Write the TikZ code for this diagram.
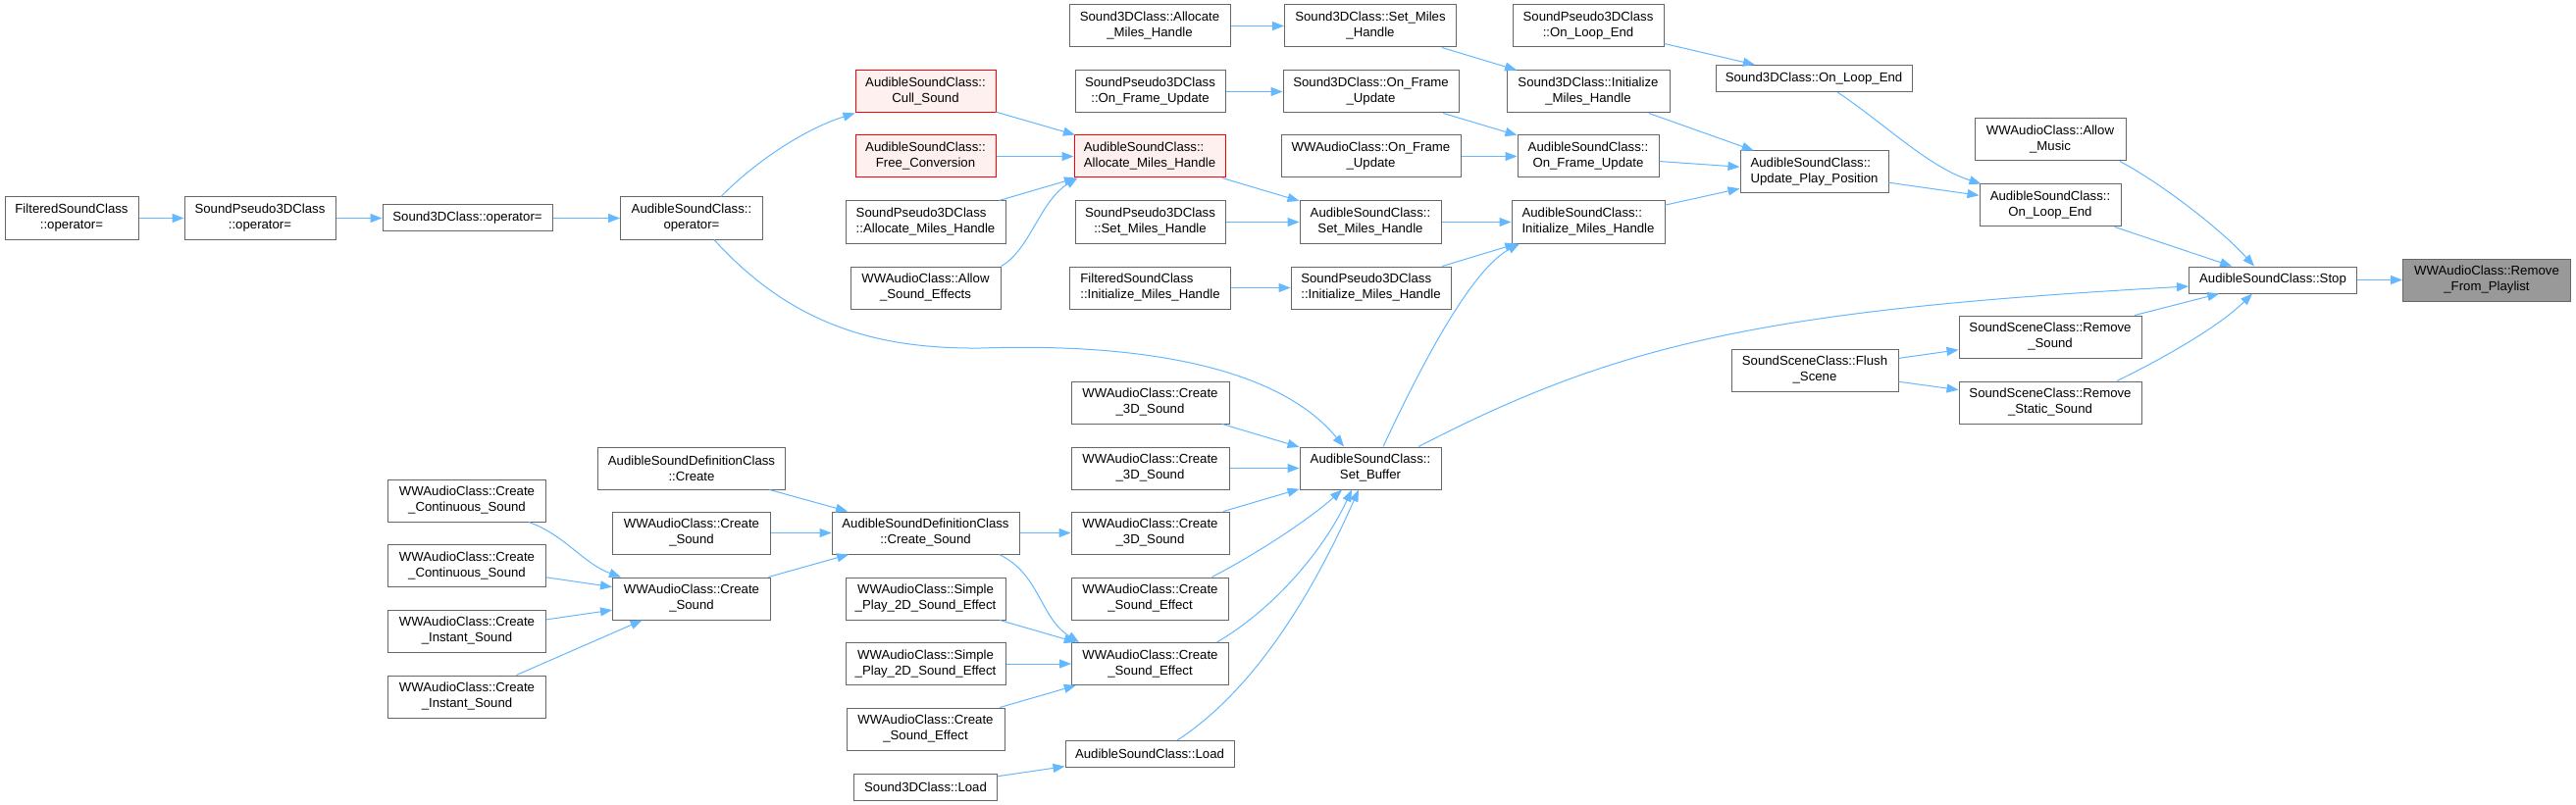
\documentclass[tikz,border=0pt]{standalone}
\usepackage{fontspec}
\newfontfamily\dxfont{Liberation Sans}
\usetikzlibrary{arrows.meta}
\newcommand\dxf{\dxfont\fontsize{13.2}{16}\selectfont}
\definecolor{dgrey}{HTML}{666666}
\definecolor{dblue}{HTML}{63B8FF}
\definecolor{dredfill}{HTML}{FFF0F0}
\definecolor{drootfill}{HTML}{999999}
\tikzset{
  dnode/.style={draw=dgrey, fill=white, line width=1pt, align=center, inner sep=0pt, minimum height=43pt, font=\dxf},
  dred/.style={dnode, draw=red, fill=dredfill},
  droot/.style={dnode, fill=drootfill},
  oneline/.style={minimum height=27pt},
  lal/.style={align=left},
  bw/.style={minimum width=#1},
  dedge/.style={draw=dblue, line width=1pt, -{Triangle[length=12pt,width=9pt]}},
}
\begin{document}
\begin{tikzpicture}[x=1pt,y=-1pt]
\fill[white] (0,0) rectangle (2626,821);
\useasboundingbox (0,0) rectangle (2626,821);

% column A-D
\node[dnode,bw=136pt] (n1) at (73,222.5) {FilteredSoundClass\\::operator=};
\node[dnode,bw=154pt] (n2) at (265,222.5) {SoundPseudo3DClass\\::operator=};
\node[dnode,oneline,bw=173pt] (n3) at (476.5,222.5) {Sound3DClass::operator=};
\node[dnode,bw=145pt] (n4) at (705,222.5) {AudibleSoundClass::\\operator=};
\node[dnode,bw=161pt] (cc1) at (476,510.5) {WWAudioClass::Create\\\_Continuous\_Sound};
\node[dnode,bw=161pt] (cc2) at (476,577) {WWAudioClass::Create\\\_Continuous\_Sound};
\node[dnode,bw=161pt] (ci1) at (476,643.5) {WWAudioClass::Create\\\_Instant\_Sound};
\node[dnode,bw=161pt] (ci2) at (476,710.5) {WWAudioClass::Create\\\_Instant\_Sound};
\node[dnode,bw=191pt] (adcc) at (705,477.5) {AudibleSoundDefinitionClass\\::Create};
\node[dnode,bw=161pt] (wcs1) at (705,543.5) {WWAudioClass::Create\\\_Sound};
\node[dnode,bw=161pt] (wcs2) at (705,610.5) {WWAudioClass::Create\\\_Sound};

% column E
\node[dred,bw=143pt] (cull) at (943.5,93.5) {AudibleSoundClass::\\Cull\_Sound};
\node[dred,bw=143pt] (free) at (943.5,159.5) {AudibleSoundClass::\\Free\_Conversion};
\node[dnode,lal,bw=163pt] (spam) at (943.5,226.5) {SoundPseudo3DClass\\::Allocate\_Miles\_Handle};
\node[dnode,bw=153pt] (ase) at (943.5,293.5) {WWAudioClass::Allow\\\_Sound\_Effects};
\node[dnode,bw=191pt] (adcs) at (943.5,543.5) {AudibleSoundDefinitionClass\\::Create\_Sound};
\node[dnode,bw=163pt] (sp1) at (943.5,610.5) {WWAudioClass::Simple\\\_Play\_2D\_Sound\_Effect};
\node[dnode,bw=163pt] (sp2) at (943.5,677) {WWAudioClass::Simple\\\_Play\_2D\_Sound\_Effect};
\node[dnode,bw=161pt] (cse0) at (943.5,743.5) {WWAudioClass::Create\\\_Sound\_Effect};
\node[dnode,oneline,bw=146pt] (s3load) at (943.5,802.5) {Sound3DClass::Load};

% column F
\node[dnode,bw=164pt] (s3am) at (1172,26.5) {Sound3DClass::Allocate\\\_Miles\_Handle};
\node[dnode,bw=153pt] (spofu) at (1172.5,93.5) {SoundPseudo3DClass\\::On\_Frame\_Update};
\node[dred,lal,bw=154pt] (aam) at (1172,159.5) {AudibleSoundClass::\\Allocate\_Miles\_Handle};
\node[dnode,bw=153pt] (spsm) at (1172.5,226.5) {SoundPseudo3DClass\\::Set\_Miles\_Handle};
\node[dnode,lal,bw=164pt] (fsim) at (1172.5,293.5) {FilteredSoundClass\\::Initialize\_Miles\_Handle};
\node[dnode,bw=161pt] (c3d1) at (1172.5,410.5) {WWAudioClass::Create\\\_3D\_Sound};
\node[dnode,bw=161pt] (c3d2) at (1172.5,477.5) {WWAudioClass::Create\\\_3D\_Sound};
\node[dnode,bw=161pt] (c3d3) at (1172.5,543.5) {WWAudioClass::Create\\\_3D\_Sound};
\node[dnode,bw=160pt] (cse1) at (1172.5,610.5) {WWAudioClass::Create\\\_Sound\_Effect};
\node[dnode,bw=160pt] (cse2) at (1172.5,677) {WWAudioClass::Create\\\_Sound\_Effect};
\node[dnode,oneline,bw=172pt] (aload) at (1172,769) {AudibleSoundClass::Load};

% column G
\node[dnode,bw=175pt] (s3sm) at (1397,26.5) {Sound3DClass::Set\_Miles\\\_Handle};
\node[dnode,bw=179pt] (s3ofu) at (1397.5,93.5) {Sound3DClass::On\_Frame\\\_Update};
\node[dnode,bw=183pt] (wofu) at (1397.5,159.5) {WWAudioClass::On\_Frame\\\_Update};
\node[dnode,bw=144pt] (asmh) at (1397,226.5) {AudibleSoundClass::\\Set\_Miles\_Handle};
\node[dnode,lal,bw=163pt] (spim) at (1397.5,293.5) {SoundPseudo3DClass\\::Initialize\_Miles\_Handle};
\node[dnode,bw=144pt] (sb) at (1397,477.5) {AudibleSoundClass::\\Set\_Buffer};

% column H
\node[dnode,bw=154pt] (sploe) at (1619,26.5) {SoundPseudo3DClass\\::On\_Loop\_End};
\node[dnode,bw=166pt] (s3im) at (1619,93.5) {Sound3DClass::Initialize\\\_Miles\_Handle};
\node[dnode,bw=144pt] (aofu) at (1619,159.5) {AudibleSoundClass::\\On\_Frame\_Update};
\node[dnode,lal,bw=156pt] (aim) at (1619,226.5) {AudibleSoundClass::\\Initialize\_Miles\_Handle};

% column I
\node[dnode,oneline,bw=200pt] (s3oe) at (1849,80) {Sound3DClass::On\_Loop\_End};
\node[dnode,lal,bw=151pt] (upp) at (1849.5,175.5) {AudibleSoundClass::\\Update\_Play\_Position};
\node[dnode,bw=170pt] (flush) at (1850,377.5) {SoundSceneClass::Flush\\\_Scene};

% column J
\node[dnode,bw=154pt] (am) at (2090,142.5) {WWAudioClass::Allow\\\_Music};
\node[dnode,bw=144pt] (aoe) at (2090,209.5) {AudibleSoundClass::\\On\_Loop\_End};
\node[dnode,bw=186pt] (rs) at (2090,343.5) {SoundSceneClass::Remove\\\_Sound};
\node[dnode,bw=186pt] (rss) at (2090,410.5) {SoundSceneClass::Remove\\\_Static\_Sound};

% columns K-L
\node[dnode,oneline,bw=171pt] (stop) at (2317,285.5) {AudibleSoundClass::Stop};
\node[droot,bw=171pt] (root) at (2535,285.5) {WWAudioClass::Remove\\\_From\_Playlist};

% edges
\draw[dedge] (n1) -- (n2);
\draw[dedge] (n2) -- (n3);
\draw[dedge] (n3) -- (n4);
\draw[dedge] ([xshift=30pt]n4.north) .. controls (775,160) and (825,130) .. (cull.south west);
\draw[dedge] ([xshift=23pt]n4.south) .. controls (810,335) and (900,356) .. (1000,355)
  .. controls (1150,350) and (1300,370) .. ([xshift=-27pt]sb.north);
\draw[dedge] (cull) -- (aam);
\draw[dedge] (free) -- (aam);
\draw[dedge] (spam) -- (aam);
\draw[dedge] (ase.north east) .. controls (1050,255) and (1060,205) .. ([xshift=4pt]aam.south west);
\draw[dedge] (aam) -- (asmh);
\draw[dedge] (s3am) -- (s3sm);
\draw[dedge] (s3sm) -- (s3im);
\draw[dedge] (spofu) -- (s3ofu);
\draw[dedge] (s3ofu) -- (aofu);
\draw[dedge] (wofu) -- (aofu);
\draw[dedge] (spsm) -- (asmh);
\draw[dedge] (asmh) -- (aim);
\draw[dedge] (fsim) -- (spim);
\draw[dedge] (spim) -- (aim);
\draw[dedge] ([xshift=13pt]sb.north) .. controls (1450,370) and (1500,275) .. ([xshift=-70pt]aim.south);
\draw[dedge] (s3im) -- (upp);
\draw[dedge] (aofu) -- (upp);
\draw[dedge] (aim) -- (upp);
\draw[dedge] (sploe) -- (s3oe);
\draw[dedge] ([xshift=24pt]s3oe.south) .. controls (1920,125) and (1965,170) .. ([xshift=2pt]aoe.north west);
\draw[dedge] (upp) -- (aoe);
\draw[dedge] (aoe) -- (stop);
\draw[dedge] ([xshift=71pt]am.south) .. controls (2205,188) and (2265,235) .. ([xshift=-19pt]stop.north);
\draw[dedge] ([xshift=49pt]sb.north) .. controls (1650,350) and (1800,316) .. ([yshift=-6.5pt]stop.west);
\draw[dedge] (rs) -- (stop);
\draw[dedge] ([xshift=68pt]rss.north) .. controls (2200,368) and (2260,335) .. ([xshift=-21pt]stop.south);
\draw[dedge] (flush) -- (rs);
\draw[dedge] (flush) -- (rss);
\draw[dedge] (stop) -- (root);
\draw[dedge] (c3d1) -- (sb);
\draw[dedge] (c3d2) -- (sb);
\draw[dedge] (c3d3) -- (sb);
\draw[dedge] ([xshift=63pt]cse1.north) .. controls (1290,560) and (1340,525) .. ([xshift=-29pt]sb.south);
\draw[dedge] ([xshift=68pt]cse2.north) .. controls (1300,620) and (1350,560) .. ([xshift=-19pt]sb.south);
\draw[dedge] ([xshift=28pt]aload.north) .. controls (1285,700) and (1345,590) .. ([xshift=-12pt]sb.south);
\draw[dedge] (adcc) -- (adcs);
\draw[dedge] (wcs1) -- (adcs);
\draw[dedge] (wcs2) -- (adcs);
\draw[dedge] (adcs) -- (c3d3);
\draw[dedge] ([xshift=75pt]adcs.south) .. controls (1060,585) and (1060,630) .. ([xshift=8pt]cse2.north west);
\draw[dedge] ([xshift=63pt]cc1.south) .. controls (575,545) and (595,575) .. ([xshift=9pt]wcs2.north west);
\draw[dedge] (cc2) -- (wcs2);
\draw[dedge] (ci1) -- (wcs2);
\draw[dedge] (ci2) -- (wcs2);
\draw[dedge] (sp1) -- (cse2);
\draw[dedge] (sp2) -- (cse2);
\draw[dedge] (cse0) -- (cse2);
\draw[dedge] (s3load) -- (aload);
\end{tikzpicture}
\end{document}
